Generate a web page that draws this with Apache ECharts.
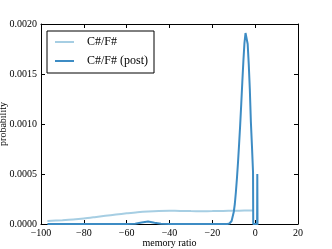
<!DOCTYPE html>
<html><head><meta charset="utf-8">
<script src="https://cdn.jsdelivr.net/npm/echarts@6/dist/echarts.min.js"></script>
<style>html,body{margin:0;padding:0;background:#fff}#c{width:332px;height:249px}</style>
</head><body><div id="c"></div>
<script>
var xTicks = [-100, -80, -60, -40, -20, 0, 20];
var yTicks = [0, 0.0005, 0.0010, 0.0015, 0.0020];
var seriesNames = ['C#/F#', 'C#/F# (post)'];
var priorX = [-97, -90, -85, -80, -75, -70, -65, -60, -55, -50, -45, -40, -35, -30, -25, -20, -15, -10, -5, -1];
var priorY = [0.000030, 0.000038, 0.000045, 0.000055, 0.000068, 0.000082, 0.000095, 0.000107, 0.000118, 0.000126, 0.000131, 0.000132, 0.000131, 0.000129, 0.000128, 0.000129, 0.000131, 0.000133, 0.000134, 0.000134];
var postX = [-97, -60, -56, -53, -50, -47, -44, -40, -13, -12, -11, -10, -9.5, -9, -8.5, -8, -7.5, -7, -6.5, -6, -5.5, -5, -4.5, -4.3, -4, -3.5, -3, -2.5, -2, -1.5, -1, -0.9, 0.9, 1.0, 1.1, 1.5];
var postY = [0, 0, 0.000003, 0.000015, 0.000024, 0.000012, 0.000002, 0, 0, 0.000005, 0.00003, 0.00012, 0.0002, 0.00032, 0.00046, 0.00062, 0.00080, 0.00099, 0.00120, 0.00142, 0.00163, 0.00181, 0.00191, 0.00192, 0.00190, 0.00180, 0.00160, 0.00135, 0.00102, 0.00078, 0.00052, 0, 0, 0.0005, 0, 0];

function pairs(xs, ys) { return xs.map(function (x, i) { return [x, ys[i]]; }); }
var font = 'Liberation Serif';
var minus = function (v) { return String(v).replace('-', '\u2212'); };
var axisLine = { show: true, onZero: false, lineStyle: { color: '#000', width: 1 } };
var tick = { show: true, inside: true, length: 4, lineStyle: { color: '#000' } };

var chart = echarts.init(document.getElementById('c'), null, { renderer: 'canvas' });
chart.setOption({
  animation: false,
  backgroundColor: '#fff',
  grid: { left: 41, right: 34, top: 24, bottom: 25, containLabel: false, outerBoundsMode: 'none' },
  legend: {
    orient: 'vertical', left: 47, top: 31,
    data: seriesNames,
    icon: 'rect', itemWidth: 19, itemHeight: 2, itemGap: 7,
    padding: [5, 6, 6, 8],
    backgroundColor: '#fff',
    borderColor: '#000', borderWidth: 1, borderRadius: 0,
    textStyle: { fontFamily: font, fontSize: 12, color: '#000', padding: [0, 0, 0, 8] }
  },
  xAxis: [{
    type: 'value', min: -100, max: 20, interval: 20,
    name: 'memory ratio', nameLocation: 'middle', nameGap: 14, nameMoveOverlap: false,
    nameTextStyle: { fontFamily: font, fontSize: 10, color: '#000' },
    axisLine: axisLine, axisTick: tick, splitLine: { show: false },
    axisLabel: { fontFamily: font, fontSize: 10, color: '#000', margin: 4, formatter: minus }
  }, {
    type: 'value', min: -100, max: 20, interval: 20, position: 'top',
    axisLine: axisLine, axisTick: tick, splitLine: { show: false }, axisLabel: { show: false }
  }],
  yAxis: [{
    type: 'value', min: 0, max: 0.002, interval: 0.0005,
    name: 'probability', nameLocation: 'middle', nameGap: 33, nameMoveOverlap: false,
    nameTextStyle: { fontFamily: font, fontSize: 10, color: '#000' },
    axisLine: axisLine, axisTick: tick, splitLine: { show: false },
    axisLabel: { fontFamily: font, fontSize: 10, color: '#000', margin: 4, formatter: function (v) { return v.toFixed(4); } }
  }, {
    type: 'value', min: 0, max: 0.002, interval: 0.0005, position: 'right',
    axisLine: axisLine, axisTick: tick, splitLine: { show: false }, axisLabel: { show: false }
  }],
  series: [{
    name: seriesNames[0], type: 'line', data: pairs(priorX, priorY), smooth: 0.3,
    showSymbol: false, lineStyle: { color: '#a6cee3', width: 2 }, itemStyle: { color: '#a6cee3' }
  }, {
    name: seriesNames[1], type: 'line', data: pairs(postX, postY), smooth: false,
    showSymbol: false, lineStyle: { color: '#3d8cc4', width: 2 }, itemStyle: { color: '#3d8cc4' }
  }]
});
</script></body></html>
